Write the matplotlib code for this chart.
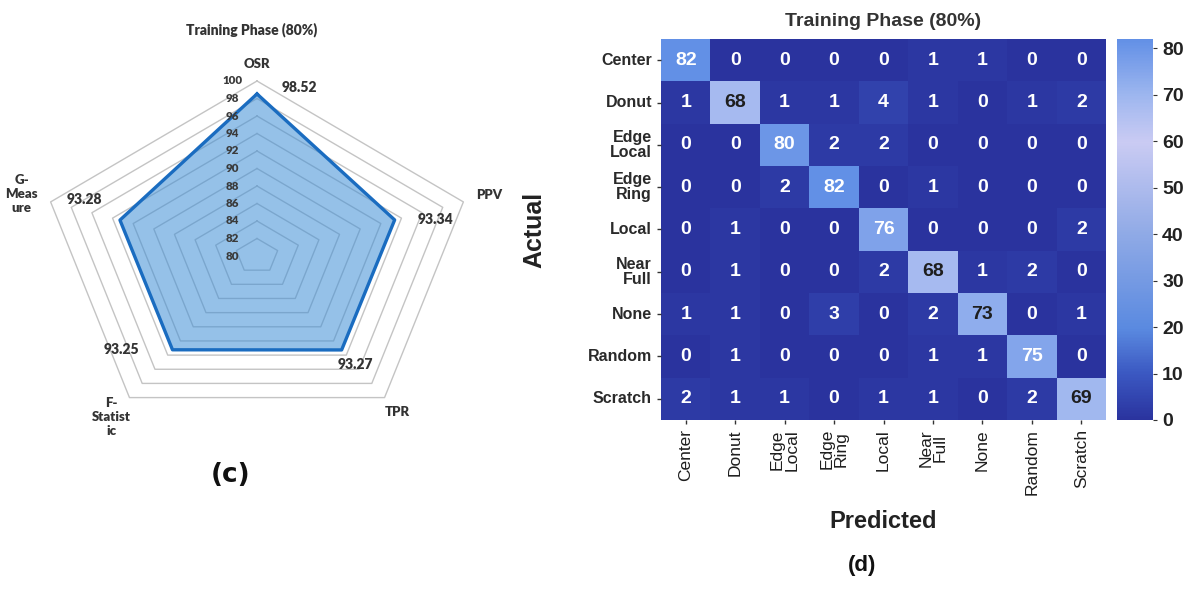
import numpy as np
import matplotlib
matplotlib.use("Agg")
import matplotlib.pyplot as plt
import seaborn as sns
from matplotlib.colors import LinearSegmentedColormap

# radar data
metrics = ["OSR", "PPV", "TPR", "F-\nStatist\nic", "G-\nMeas\nure"]
scores = [98.52, 93.34, 93.27, 93.25, 93.28]
rings = [82, 84, 86, 88, 90, 92, 94, 96, 98, 100]
ring_labels = [80, 82, 84, 86, 88, 90, 92, 94, 96, 98, 100]

# confusion matrix data
classes = ["Center", "Donut", "Edge\nLocal", "Edge\nRing", "Local",
           "Near\nFull", "None", "Random", "Scratch"]
cm = np.array([
    [82, 0, 0, 0, 0, 1, 1, 0, 0],
    [1, 68, 1, 1, 4, 1, 0, 1, 2],
    [0, 0, 80, 2, 2, 0, 0, 0, 0],
    [0, 0, 2, 82, 0, 1, 0, 0, 0],
    [0, 1, 0, 0, 76, 0, 0, 0, 2],
    [0, 1, 0, 0, 2, 68, 1, 2, 0],
    [1, 1, 0, 3, 0, 2, 73, 0, 1],
    [0, 1, 0, 0, 0, 1, 1, 75, 0],
    [2, 1, 1, 0, 1, 1, 0, 2, 69],
])

W, H = 1200, 591
fig = plt.figure(figsize=(12, 5.91), dpi=100)

def px_axes(left, top, right, bottom):
    return fig.add_axes([left / W, 1 - bottom / H, (right - left) / W, (bottom - top) / H])

# ---------------- radar (c) ----------------
rfont = "Lato"
base = 80
lim = 22
cx, cy = 257, 256
sx, sy = 10.85, 8.75   # px per unit (picture is stretched sideways)
ax1 = px_axes(cx - lim * sx, cy - lim * sy, cx + lim * sx, cy + lim * sy)
ax1.set_xlim(-lim, lim)
ax1.set_ylim(-lim, lim)
ax1.axis("off")

ang = np.deg2rad(90 - 72 * np.arange(len(metrics)))
ang_c = np.append(ang, ang[0])
for v in rings:
    r = v - base
    ax1.plot(r * np.cos(ang_c), r * np.sin(ang_c), color="#c4c4c4", lw=1.0, zorder=1)

rs = np.array(scores) - base
rs_c = np.append(rs, rs[0])
ax1.fill(rs_c * np.cos(ang_c), rs_c * np.sin(ang_c), color="#3f8fd6", alpha=0.55, zorder=2, lw=0)
ax1.plot(rs_c * np.cos(ang_c), rs_c * np.sin(ang_c), color="#1a6cc0", lw=2.4, zorder=3)

for v in ring_labels:
    ax1.text(-2.3, v - base, str(v), ha="center", va="center", fontsize=8.3,
             fontweight="heavy", color="#3a3a3a", family=rfont, zorder=4)

name_r = [22.0, 22.5, 22.0, 22.8, 22.8]
for a, name, r in zip(ang, metrics, name_r):
    ax1.text(r * np.cos(a), r * np.sin(a), name, ha="center", va="center",
             fontsize=9.5, fontweight="heavy", color="#333333", family=rfont,
             linespacing=1.2, clip_on=False)

val_off = [(3.9, 0.7), (3.8, 0.0), (1.3, -1.7), (-4.7, 0.0), (-3.3, 2.3)]
for a, s, r, (dx, dy) in zip(ang, scores, rs, val_off):
    ax1.text(r * np.cos(a) + dx, r * np.sin(a) + dy, f"{s:.2f}", ha="center",
             va="center", fontsize=10, fontweight="heavy", color="#333333",
             family=rfont, clip_on=False)

fig.text(252 / W, 1 - 30 / H, "Training Phase (80%)", ha="center", va="center",
         fontsize=10, fontweight="heavy", color="#333333", family=rfont)
fig.text(231 / W, 1 - 475 / H, "(c)", ha="center", va="center", fontsize=19,
         fontweight="bold", color="#111111", family="DejaVu Sans")

# ---------------- confusion matrix (d) ----------------
hfont = "Liberation Sans"
cmap = LinearSegmentedColormap.from_list("cm_blue", [
    (0.0, "#2a339e"), (0.12, "#3b58c2"), (0.24, "#5a8ae0"), (0.49, "#90aae6"),
    (0.73, "#cacbf3"), (0.85, "#9fb7ef"), (1.0, "#6290e6")])

ax2 = px_axes(661, 39, 1106, 420)
cax = px_axes(1117, 39, 1153, 420)
sns.heatmap(cm, ax=ax2, cbar_ax=cax, cmap=cmap, vmin=0, vmax=82, annot=True, fmt="d",
            annot_kws={"fontsize": 14, "fontweight": "bold", "family": hfont},
            xticklabels=classes, yticklabels=classes, cbar_kws={"ticks": range(0, 81, 10)})
for t in ax2.texts:
    v = int(t.get_text())
    t.set_color("#1e1e1e" if 60 <= v <= 74 else "white")

ax2.tick_params(axis="both", length=3, width=1, color="#333333")
for lab in ax2.get_yticklabels():
    lab.set_rotation(0)
    lab.set_ha("right")
    lab.set_fontsize(11.5)
    lab.set_fontweight("bold")
    lab.set_family(hfont)
    lab.set_color("#2a2a2a")
    lab.set_linespacing(1.0)
for lab in ax2.get_xticklabels():
    lab.set_rotation(90)
    lab.set_fontsize(12.5)
    lab.set_family(hfont)
    lab.set_color("#1e1e1e")
    lab.set_linespacing(0.95)

ax2.set_title("Training Phase (80%)", fontsize=14, fontweight="bold", color="#333333",
              family=hfont, pad=9)
ax2.set_ylabel("Actual", fontsize=18, fontweight="bold", color="#222222", family=hfont,
               labelpad=30)
ax2.set_xlabel("Predicted", fontsize=17, fontweight="bold", color="#222222", family=hfont,
               labelpad=11)

cax.tick_params(length=3, color="#333333")
for lab in cax.get_yticklabels():
    lab.set_fontsize(14)
    lab.set_fontweight("bold")
    lab.set_family(hfont)
    lab.set_color("#222222")

fig.text(862 / W, 1 - 566 / H, "(d)", ha="center", va="center", fontsize=16,
         fontweight="bold", color="#111111", family=hfont)

fig.savefig("out.png", dpi=100)
